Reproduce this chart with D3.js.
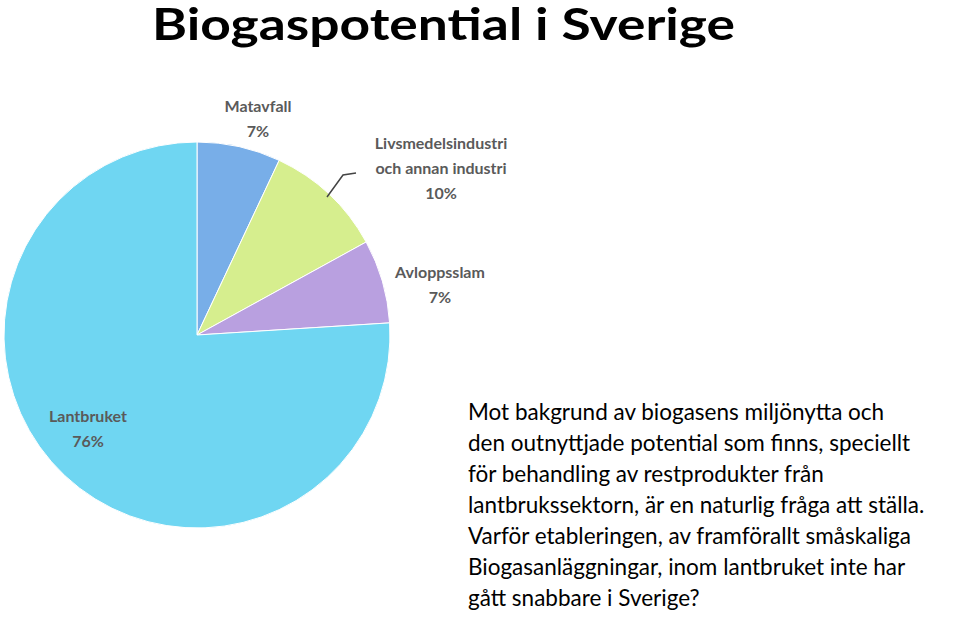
<html>
<head>
<script src="https://d3js.org/d3.v7.min.js"></script>
<style>
body { margin: 0; background: white; }
</style>
</head>
<body>
<svg id="chart" width="960" height="617"></svg>
<script>
const categories = ["Matavfall", "Livsmedelsindustri och annan industri", "Avloppsslam", "Lantbruket"];
const shares = [7, 10, 7, 76];
const colors = ["#78aee8", "#d6ee8e", "#b9a0e0", "#6fd6f2"];
const bodyLines = [
    "Mot bakgrund av biogasens miljönytta och",
    "den outnyttjade potential som finns, speciellt",
    "för behandling av restprodukter från",
    "lantbrukssektorn, är en naturlig fråga att ställa.",
    "Varför etableringen, av framförallt småskaliga",
    "Biogasanläggningar, inom lantbruket inte har",
    "gått snabbare i Sverige?"
];

const svg = d3.select("#chart");
const cx = 197, cy = 335, radius = 193;

svg.append("text")
    .attr("x", 152).attr("y", 40)
    .attr("font-family", "Lato, sans-serif")
    .attr("font-weight", "bold")
    .attr("font-size", 44)
    .attr("textLength", 583)
    .attr("lengthAdjust", "spacingAndGlyphs")
    .text("Biogaspotential i Sverige");

const pie = d3.pie().sort(null).value(d => d)(shares);
const arc = d3.arc().innerRadius(0).outerRadius(radius);

svg.append("g")
    .attr("transform", `translate(${cx},${cy})`)
    .selectAll("path")
    .data(pie)
    .join("path")
    .attr("d", arc)
    .attr("fill", (d, i) => colors[i])
    .attr("stroke", "white")
    .attr("stroke-width", 1);

// labels
const labels = [
    {lines: ["Matavfall", "7%"], x: 258, y: 112},
    {lines: ["Livsmedelsindustri", "och annan industri", "10%"], x: 441, y: 149},
    {lines: ["Avloppsslam", "7%"], x: 440, y: 278},
    {lines: ["Lantbruket", "76%"], x: 88, y: 422}
];
labels.forEach(l => {
    l.lines.forEach((t, j) => {
        svg.append("text")
            .attr("x", l.x).attr("y", l.y + j * 25)
            .attr("text-anchor", "middle")
            .attr("font-family", "Lato, sans-serif")
            .attr("font-weight", "bold")
            .attr("font-size", 16)
            .attr("fill", "#5a5a5a")
            .text(t);
    });
});
svg.append("path")
    .attr("d", "M327,197 L343,175 L356,173")
    .attr("fill", "none")
    .attr("stroke", "#444")
    .attr("stroke-width", 1.5);

svg.selectAll("text.body")
    .data(bodyLines)
    .join("text")
    .attr("class", "body")
    .attr("x", 468)
    .attr("y", (d, i) => 420 + i * 31)
    .attr("font-family", "Lato, sans-serif")
    .attr("font-size", 22.5)
    .text(d => d);
</script>
</body>
</html>
